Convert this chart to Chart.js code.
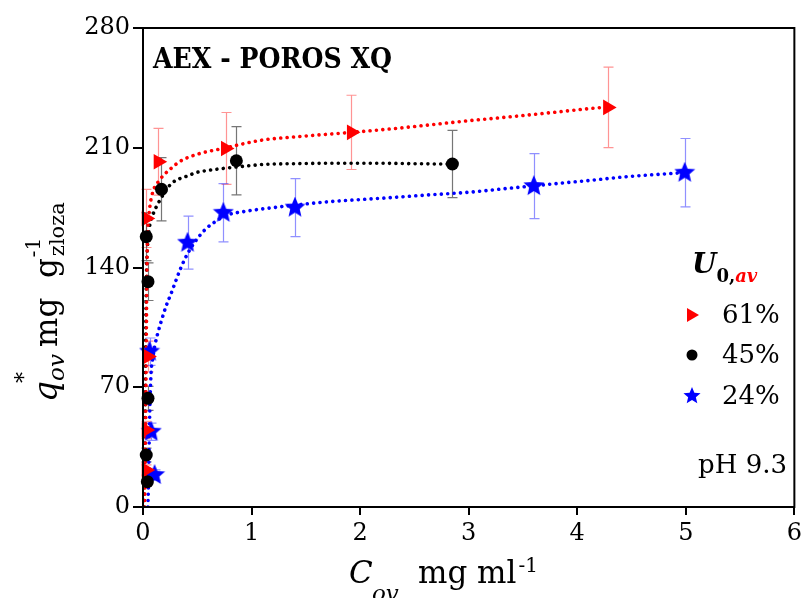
<!DOCTYPE html>
<html>
<head>
<meta charset="utf-8">
<script src="https://cdn.jsdelivr.net/npm/chart.js@4"></script>
<style>
  html, body { margin: 0; padding: 0; background: #fff; }
</style>
</head>
<body>
<canvas id="chart" width="806" height="598"></canvas>
<script>
// measured points, U0,av = 61% (red), 45% (black), 24% (blue)
const redX = [0.03, 0.03, 0.045, 0.03, 0.14, 0.76, 1.92, 4.28];
const redY = [21.6, 45, 88, 168.7, 201.8, 209.6, 219, 233.6];
const redErr = [3, 5, 9, 17, 19.5, 21, 21.7, 23.5];

const blackX = [0.04, 0.03, 0.046, 0.046, 0.03, 0.17, 0.86, 2.85];
const blackY = [14.8, 30.4, 63.5, 131.7, 158, 185.7, 202.4, 200.5];
const blackErr = [2, 4, 7, 11, 14, 18.5, 20, 19.6];

const blueX = [0.107, 0.076, 0.061, 0.41, 0.74, 1.40, 3.60, 4.99];
const blueY = [18.7, 44, 90.8, 154.5, 172, 175, 187.6, 195.4];
const blueErr = [3, 5, 8, 15.5, 17, 17, 19, 20];

// fitted curves (dotted)
const redFitX = [0.015, 0.02, 0.025, 0.03, 0.035, 0.04, 0.05, 0.064, 0.095, 0.14, 0.19, 0.26, 0.34, 0.49, 0.73, 1.1, 1.41, 1.92, 2.33, 2.63, 3.0, 3.4, 3.83, 4.13, 4.28];
const redFitY = [0, 20, 50, 90, 130, 155, 167, 176, 185, 190, 194, 198, 202, 206, 209.5, 214.5, 216.4, 219, 221.3, 223.3, 225.8, 228.2, 231, 233, 233.8];

const blackFitX = [0.01, 0.015, 0.02, 0.025, 0.03, 0.04, 0.06, 0.09, 0.14, 0.2, 0.26, 0.34, 0.41, 0.49, 0.57, 0.75, 0.9, 1.1, 1.4, 1.72, 2.2, 2.6, 2.9];
const blackFitY = [0, 25, 60, 100, 130, 150, 163.8, 170.7, 177.5, 184, 189, 192, 193.5, 195.5, 196.5, 198, 199, 200.2, 200.7, 200.9, 200.9, 200.6, 200.4];

const blueFitX = [0.045, 0.05, 0.055, 0.06, 0.065, 0.07, 0.076, 0.09, 0.107, 0.14, 0.17, 0.21, 0.26, 0.305, 0.35, 0.41, 0.49, 0.57, 0.67, 0.77, 0.96, 1.2, 1.4, 1.72, 2.2, 2.6, 3.0, 3.4, 3.83, 4.13, 4.44, 4.99];
const blueFitY = [0, 12, 30, 48, 62, 72, 80, 87, 93.7, 102.5, 109, 117, 125, 132.7, 140, 148, 156, 162, 167, 170.5, 173, 175, 176.5, 178.5, 180.5, 182.3, 184, 186.5, 189.2, 191, 193, 195.5];

const legendLabels = ["61%", "45%", "24%"];
const xTicks = [0, 1, 2, 3, 4, 5, 6];
const yTicks = [0, 70, 140, 210, 280];

const SERIF = "'DejaVu Serif', 'Liberation Serif', serif";

function pts(xs, ys) {
  return xs.map((x, i) => ({ x: x, y: ys[i] }));
}

// filled five point star as a point style
function makeStar(size, color) {
  const c = document.createElement("canvas");
  c.width = size; c.height = size;
  const g = c.getContext("2d");
  starPath(g, size / 2, size / 2, size / 2);
  g.fillStyle = color;
  g.fill();
  return c;
}

function starPath(g, cx, cy, R) {
  const r = R * 0.45;
  g.beginPath();
  for (let i = 0; i < 10; i++) {
    const a = -Math.PI / 2 + i * Math.PI / 5;
    const rad = i % 2 ? r : R;
    g.lineTo(cx + rad * Math.cos(a), cy + rad * Math.sin(a));
  }
  g.closePath();
}

const series = [
  { xs: redX, ys: redY, err: redErr, errColor: "rgba(255,60,60,0.55)" },
  { xs: blackX, ys: blackY, err: blackErr, errColor: "rgba(60,60,60,0.7)" },
  { xs: blueX, ys: blueY, err: blueErr, errColor: "rgba(70,70,255,0.6)" },
];

const errorBars = {
  id: "errorBars",
  beforeDatasetsDraw(chart) {
    const { ctx, scales: { x, y } } = chart;
    ctx.save();
    ctx.lineWidth = 1.2;
    series.forEach(s => {
      ctx.strokeStyle = s.errColor;
      s.xs.forEach((xv, i) => {
        const px = Math.round(x.getPixelForValue(xv)) + 0.5;
        const top = y.getPixelForValue(s.ys[i] + s.err[i]);
        const bot = y.getPixelForValue(s.ys[i] - s.err[i]);
        ctx.beginPath();
        ctx.moveTo(px, top); ctx.lineTo(px, bot);
        ctx.moveTo(px - 5, top); ctx.lineTo(px + 5, top);
        ctx.moveTo(px - 5, bot); ctx.lineTo(px + 5, bot);
        ctx.stroke();
      });
    });
    ctx.restore();
  }
};

const decorations = {
  id: "decorations",
  afterDraw(chart) {
    const { ctx, chartArea: a } = chart;
    ctx.save();

    // closed frame
    ctx.strokeStyle = "#000";
    ctx.lineWidth = 2;
    ctx.strokeRect(a.left, a.top, a.right - a.left, a.bottom - a.top);

    ctx.fillStyle = "#000";
    ctx.textBaseline = "alphabetic";
    ctx.textAlign = "left";

    // title inside the plot
    ctx.font = "bold 28px " + SERIF;
    const title = "AEX - POROS XQ";
    const tw = ctx.measureText(title).width;
    ctx.save();
    ctx.translate(153, 68);
    ctx.scale(239 / tw, 1);
    ctx.fillText(title, 0, 0);
    ctx.restore();

    // legend header U0,av
    ctx.font = "italic bold 28px " + SERIF;
    ctx.fillText("U", 692, 273);
    const uw = ctx.measureText("U").width;
    ctx.font = "bold 18px " + SERIF;
    ctx.fillText("0,", 692 + uw, 282);
    const zw = ctx.measureText("0,").width;
    ctx.fillStyle = "#ff0000";
    ctx.font = "italic bold 18px " + SERIF;
    ctx.fillText("av", 692 + uw + zw, 282);

    // legend entries
    const rows = [315, 355, 396];
    const mx = 692;
    ctx.fillStyle = "#ff0000";
    ctx.beginPath();
    ctx.moveTo(mx - 5, rows[0] - 7);
    ctx.lineTo(mx + 7, rows[0]);
    ctx.lineTo(mx - 5, rows[0] + 7);
    ctx.closePath();
    ctx.fill();
    ctx.fillStyle = "#000";
    ctx.beginPath();
    ctx.arc(mx, rows[1], 5.5, 0, Math.PI * 2);
    ctx.fill();
    ctx.fillStyle = "#0000ff";
    starPath(ctx, mx, rows[2], 9);
    ctx.fill();

    ctx.fillStyle = "#000";
    ctx.font = "26px " + SERIF;
    ctx.textBaseline = "middle";
    legendLabels.forEach((t, i) => ctx.fillText(t, 722, rows[i] + 1));
    ctx.textAlign = "right";
    ctx.fillText("pH 9.3", 787, 466);

    // x axis title: C_ov  mg ml^-1
    ctx.textAlign = "left";
    ctx.textBaseline = "alphabetic";
    ctx.font = "italic 31px " + SERIF;
    ctx.fillText("C", 349, 583);
    ctx.font = "italic 23px " + SERIF;
    ctx.fillText("ov", 372, 601);
    ctx.font = "31px " + SERIF;
    ctx.fillText("mg ml", 418, 583);
    const mw = ctx.measureText("mg ml").width;
    ctx.font = "20px " + SERIF;
    ctx.fillText("-1", 418 + mw + 2, 572);

    // y axis title: q*_ov  mg  g^-1_zloza (rotated)
    ctx.save();
    ctx.translate(57, 402);
    ctx.rotate(-Math.PI / 2);
    ctx.font = "italic 33px " + SERIF;
    ctx.fillText("q", 0, 0);
    const qw = ctx.measureText("q").width;
    ctx.font = "22px " + SERIF;
    ctx.fillText("*", qw - 2, -26);
    ctx.font = "italic 23px " + SERIF;
    ctx.fillText("ov", qw, 7);
    ctx.font = "31px " + SERIF;
    ctx.fillText("mg", 55, 0);
    ctx.fillText("g", 124, 0);
    const gw = ctx.measureText("g").width;
    ctx.font = "20px " + SERIF;
    ctx.fillText("-1", 124 + gw + 1, -17);
    ctx.font = "21px " + SERIF;
    ctx.fillText("zloza", 124 + gw + 2, 7);
    ctx.restore();

    ctx.restore();
  }
};

const axisFont = { family: SERIF, size: 24 };

new Chart(document.getElementById("chart"), {
  type: "scatter",
  data: {
    datasets: [
      {
        label: legendLabels[0], data: pts(redX, redY), order: 0, clip: false,
        pointStyle: "triangle", rotation: 90, pointRadius: 9,
        backgroundColor: "#ff0000", borderColor: "#ff0000", borderWidth: 0, showLine: false
      },
      {
        label: legendLabels[1], data: pts(blackX, blackY), order: 0, clip: false,
        pointStyle: "circle", pointRadius: 6.5,
        backgroundColor: "#000", borderColor: "#000", borderWidth: 0, showLine: false
      },
      {
        label: legendLabels[2], data: pts(blueX, blueY), order: 0, clip: false,
        pointStyle: makeStar(22, "#0000ff"), pointRadius: 11,
        backgroundColor: "#0000ff", borderColor: "#0000ff", borderWidth: 0, showLine: false
      },
      {
        label: "fit 61%", data: pts(redFitX, redFitY), order: 1, showLine: true,
        borderColor: "#ff0000", borderWidth: 3.6, borderDash: [0.001, 6.4], borderCapStyle: "round",
        pointRadius: 0, cubicInterpolationMode: "monotone"
      },
      {
        label: "fit 45%", data: pts(blackFitX, blackFitY), order: 1, showLine: true,
        borderColor: "#000", borderWidth: 3.6, borderDash: [0.001, 6.4], borderCapStyle: "round",
        pointRadius: 0, cubicInterpolationMode: "monotone"
      },
      {
        label: "fit 24%", data: pts(blueFitX, blueFitY), order: 1, showLine: true,
        borderColor: "#0000ff", borderWidth: 3.6, borderDash: [0.001, 6.4], borderCapStyle: "round",
        pointRadius: 0, cubicInterpolationMode: "monotone"
      }
    ]
  },
  options: {
    responsive: false,
    animation: false,
    layout: { padding: { top: 28, right: 9, left: 0, bottom: 0 } },
    plugins: {
      legend: { display: false },
      tooltip: { enabled: false }
    },
    scales: {
      x: {
        type: "linear", min: 0, max: 6,
        afterFit: s => { s.height = 91; },
        afterBuildTicks: s => { s.ticks = xTicks.map(v => ({ value: v })); },
        ticks: { color: "#000", font: axisFont, padding: 4, maxRotation: 0 },
        grid: { drawOnChartArea: false, drawTicks: true, tickLength: 8, color: "#000", lineWidth: 2 },
        border: { color: "#000", width: 2 }
      },
      y: {
        type: "linear", min: 0, max: 280,
        afterFit: s => { s.width = 143; },
        afterBuildTicks: s => { s.ticks = yTicks.map(v => ({ value: v })); },
        ticks: { color: "#000", font: axisFont, padding: 3 },
        grid: { drawOnChartArea: false, drawTicks: true, tickLength: 10, color: "#000", lineWidth: 2 },
        border: { color: "#000", width: 2 }
      }
    }
  },
  plugins: [errorBars, decorations]
});
</script>
</body>
</html>
